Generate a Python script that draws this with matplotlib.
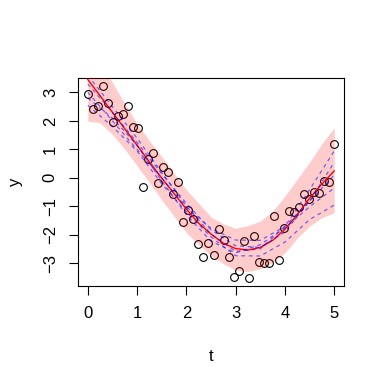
import numpy as np
import matplotlib
matplotlib.use("Agg")
import matplotlib.pyplot as plt

plt.rcParams['font.family'] = ['Liberation Sans', 'DejaVu Sans']

# observed points (t = 50 evenly spaced values on [0, 5])
t_obs = np.linspace(0, 5, 50)
y_obs = [2.94, 2.40, 2.53, 3.22, 2.64, 1.97, 2.18, 2.23, 2.52, 1.77,
         1.76, -0.32, 0.65, 0.88, -0.18, 0.37, 0.21, -0.57, -0.16, -1.55,
         -1.15, -1.45, -2.33, -2.78, -2.31, -2.72, -1.81, -2.19, -2.78, -3.50,
         -3.27, -2.21, -3.54, -2.04, -2.97, -2.99, -2.99, -1.35, -2.89, -1.78,
         -1.16, -1.19, -1.04, -0.57, -0.75, -0.49, -0.53, -0.12, -0.16, 1.17]

# fitted mean curve and band
t_fit = [0, 0.25, 0.5, 0.75, 1.0, 1.25, 1.5, 2.0, 2.25, 2.5, 2.75, 3.0, 3.25,
         3.5, 3.75, 4.0, 4.25, 4.5, 4.75, 5.0]
y_fit = [3.45, 2.88, 2.30, 1.72, 1.14, 0.56, -0.01, -1.10, -1.60, -1.98, -2.30,
         -2.49, -2.54, -2.45, -2.20, -1.81, -1.30, -0.72, -0.22, 0.24]
band_hi = [4.50, 3.95, 3.35, 2.60, 1.90, 1.30, 0.74, -0.42, -0.90, -1.38, -1.62,
           -1.78, -1.68, -1.52, -1.18, -0.64, -0.05, 0.55, 1.20, 1.76]
band_lo = [1.99, 1.93, 1.52, 1.00, 0.42, -0.17, -0.78, -1.93, -2.35, -2.74, -3.02,
           -3.25, -3.30, -3.20, -2.97, -2.64, -2.12, -1.70, -1.40, -1.23]

# sample curves (blue dashed)
t_samp = [0, 0.5, 1, 1.5, 2, 2.5, 3, 3.5, 4, 4.5, 5]
samp_a = [3.60, 2.50, 1.39, 0.19, -1.00, -1.98, -2.59, -2.50, -1.71, -0.42, 0.94]
samp_b = [3.30, 2.30, 1.24, 0.14, -0.90, -1.83, -2.39, -2.45, -1.91, -0.82, 0.54]
samp_c = [3.00, 2.00, 0.99, -0.01, -1.05, -1.78, -2.19, -2.20, -1.71, -0.82, 0.09]
samp_d = [2.80, 2.10, 1.14, -0.11, -1.30, -2.23, -2.64, -2.35, -1.76, -1.02, -0.36]
samp_e = [2.55, 1.80, 0.94, -0.21, -1.20, -2.08, -2.74, -2.75, -2.26, -1.47, -0.96]

fig = plt.figure(figsize=(3.84, 3.84), dpi=100)
ax = fig.add_axes([0.203, 0.255, 0.693, 0.541])

ax.plot(t_obs, y_obs, 'o', mfc='none', mec='black', ms=5.6, mew=0.8,
        clip_on=False, zorder=2)
ax.fill_between(t_fit, band_lo, band_hi, color='red', alpha=0.2, lw=0, zorder=3)
ax.plot(t_fit, y_fit, color='red', lw=1.0, zorder=4)
for s in (samp_a, samp_b, samp_c, samp_d, samp_e):
    ax.plot(t_samp, s, color='blue', alpha=0.55, lw=0.9, dashes=(3, 3), zorder=5)

ax.set_xlim(-0.2, 5.2)
ax.set_ylim(-3.807, 3.494)
ax.set_xticks(range(6))
ax.set_yticks(range(-3, 4))
ax.tick_params(length=6.5, width=0.8, labelsize=12, pad=8)
for lab in ax.get_yticklabels():
    lab.set_rotation(90)
    lab.set_va('center')
for sp in ax.spines.values():
    sp.set_linewidth(0.8)
ax.set_xlabel('t', fontsize=12, labelpad=20)
ax.set_ylabel('y', fontsize=12, labelpad=14)

fig.savefig('out.png', dpi=100)
